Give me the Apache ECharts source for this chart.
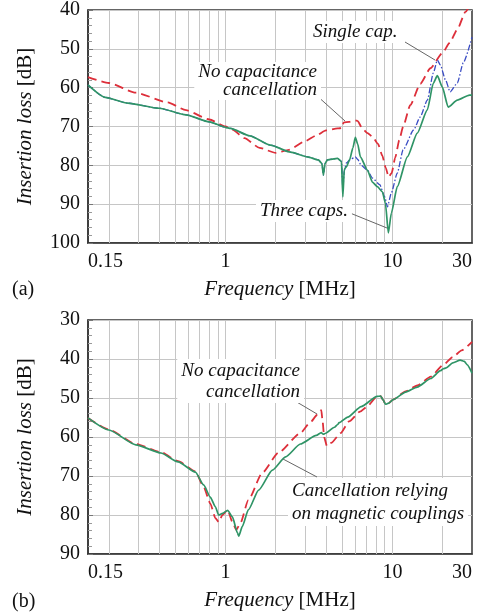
<!DOCTYPE html>
<html><head><meta charset="utf-8">
<script src="https://cdn.jsdelivr.net/npm/echarts@6/dist/echarts.min.js"></script>
<style>html,body{margin:0;padding:0;background:#fff}#c{width:480px;height:615px}</style>
</head><body><div id="c"></div>
<script>
// ---- tick labels / gridlines ----
const xTickLabels = [0.15, 1, 10, 30];
const gridFreqs = [0.2,0.3,0.4,0.5,0.6,0.7,0.8,0.9,1,2,3,4,5,6,7,8,9,10,20];
const yTicksA = [40,50,60,70,80,90,100];
const yTicksB = [30,40,50,60,70,80,90];

// ---- panel (a) ----
const fA_none = [0.15,0.2,0.29,0.45,0.58,0.8,1.0,1.1,1.3,1.6,2.0,2.4,3.0,3.5,4.0,4.7,5.0,5.1,5.5,6.0,6.2,6.6,7.1,7.6,8.2,8.7,9.1,9.5,9.9,10.4,11.0,11.6,12.8,14.7,16.9,20,22,24.5,27.4,30];
const lA_none = [57.3,58.8,61.3,63.8,65.8,68.2,70.0,70.8,73.0,75.5,76.8,76.0,73.8,72.3,71.0,70.5,70.4,69.0,68.8,68.4,68.6,70.5,71.7,72.6,74.5,77.5,80.5,83.0,82.0,78.0,73.5,70.0,64.5,59.0,55.0,51.0,48.5,45.0,40.5,37.5];

const fA_single = [0.15,0.19,0.26,0.4,0.58,0.8,1.0,1.07,1.4,1.86,2.45,3.1,3.6,3.78,3.86,3.95,4.08,4.69,4.95,5.05,5.15,5.3,5.6,6.0,6.2,6.5,7.08,7.6,8.4,9.0,9.34,9.86,10.7,11.6,13.4,14.7,16.2,17.6,18.6,19.4,20.8,22.2,24.5,26.6,30];
const lA_single = [59.3,62.5,64.0,65.3,67.0,68.8,70.2,70.5,72.4,74.8,76.6,77.8,78.6,79.5,82.5,79.5,78.6,78.2,79.0,86.0,81.5,79.4,78.5,77.8,78.5,80.0,81.2,83.3,85.0,88.1,90.7,87.1,82.0,76.0,70.9,67.5,63.2,56.2,52.9,54.2,58.0,61.1,58.8,53.6,47.0];

const fA_three = [0.15,0.19,0.26,0.4,0.58,0.8,1.0,1.07,1.4,1.86,2.45,3.1,3.6,3.78,3.86,3.95,4.08,4.69,4.95,5.05,5.15,5.3,5.55,5.8,6.0,6.2,6.43,7.08,7.59,8.13,8.71,9.08,9.46,9.86,10.7,12.3,14.1,16.2,17.6,18.6,19.9,21.6,24.5,29,30];
const lA_three = [59.3,62.5,64.0,65.3,67.0,68.8,70.2,70.5,72.4,74.8,76.6,77.8,78.6,79.5,82.5,79.5,78.6,78.2,79.0,88.1,81.0,80.4,78.5,75.5,72.8,74.5,77.8,81.2,84.3,85.5,86.8,89.7,97.4,92.3,85.5,77.8,71.7,65.7,58.8,56.9,59.8,65.0,63.2,61.9,61.9];

// ---- panel (b) ----
const fB_none = [0.15,0.2,0.29,0.41,0.52,0.66,0.74,0.81,0.87,0.91,0.96,1.03,1.1,1.16,1.23,1.37,1.66,2.08,2.81,3.2,3.55,3.75,3.82,3.9,4.05,4.3,4.9,5.5,6.4,7.0,8.1,8.5,8.8,9.1,9.5,10.1,12,14.1,17,20.2,23,26,30];
const lB_none = [55.1,58.1,61.8,63.9,66.2,68.8,72.8,77.0,80.8,81.8,80.0,78.7,81.8,83.8,82.0,76.2,69.2,64.0,59.0,56.4,54.3,53.1,56.0,60.0,62.3,61.5,59.0,56.0,53.5,52.3,49.6,49.5,50.5,51.6,51.3,50.4,48.3,46.8,44.5,41.5,39.5,37.8,35.6];

const fB_mag = [0.15,0.2,0.29,0.41,0.52,0.66,0.74,0.81,0.87,0.91,0.96,1.03,1.1,1.18,1.2,1.26,1.37,1.58,1.91,2.29,2.81,3.5,3.75,3.85,3.95,4.5,4.7,4.8,5.4,6.5,8.1,8.5,8.8,9.1,9.5,10.1,12,14.1,17,19.4,20.2,21,23,25.5,27,28.1,30];
const lB_mag = [55.1,58.2,62.0,64.1,66.4,69.0,72.3,75.4,77.9,80.0,79.6,78.8,80.5,84.6,85.4,83.0,78.7,73.6,68.5,65.1,61.8,59.6,58.9,59.3,59.1,57.5,56.8,56.3,54.9,52.2,49.6,49.5,50.5,51.6,51.3,50.4,48.5,47.2,45.0,43.0,42.5,42.3,41.0,40.3,40.6,41.5,43.6];

const FONT = "'Liberation Serif','Times New Roman',serif";
const zip = (xs, ys) => xs.map((x, i) => [x, ys[i]]);
const fmtX = v => { const r = +(+v).toPrecision(3); return xTickLabels.some(t => Math.abs(t - r) < 1e-6) ? String(r) : ''; };

function xAxisCfg(gi) {
  return {
    type: 'log', gridIndex: gi, min: 0.15, max: 30, logBase: 10,
    axisLine: { show: true, lineStyle: { color: '#333', width: 1.5 } },
    axisTick: { show: false }, splitLine: { show: false }, minorTick: { show: false },
    axisLabel: { formatter: fmtX, fontFamily: FONT, fontSize: 20, color: '#111', margin: 9,
      alignMinLabel: 'left', alignMaxLabel: 'right', showMinLabel: true, showMaxLabel: true },
    name: '{i|Frequency} {n|[MHz]}', nameLocation: 'middle', nameGap: 36,
    nameTextStyle: { fontFamily: FONT, fontSize: 21, color: '#111',
      rich: { i: { fontStyle: 'italic', fontFamily: FONT, fontSize: 21, color: '#111' }, n: { fontFamily: FONT, fontSize: 21, color: '#111' } } }
  };
}
function yAxisCfg(gi, ticks) {
  return {
    type: 'value', gridIndex: gi, inverse: true, min: ticks[0], max: ticks[ticks.length - 1], interval: 10,
    axisLine: { show: true, lineStyle: { color: '#333', width: 1.5 } },
    axisTick: { show: true, inside: true, length: 5, lineStyle: { color: '#777' } },
    minorTick: { show: true, splitNumber: 5, length: 4, lineStyle: { color: '#999' } },
    splitLine: { show: true, lineStyle: { color: '#c6c6c6', width: 1 } },
    axisLabel: { fontFamily: FONT, fontSize: 20, color: '#111', margin: 8 },
    name: '{i|Insertion loss} {n|[dB]}', nameLocation: 'middle', nameGap: 52,
    nameTextStyle: { fontFamily: FONT, fontSize: 21, color: '#111',
      rich: { i: { fontStyle: 'italic', fontFamily: FONT, fontSize: 21, color: '#111' }, n: { fontFamily: FONT, fontSize: 21, color: '#111' } } }
  };
}
function gridLineSeries(gi) {
  return {
    type: 'line', xAxisIndex: gi, yAxisIndex: gi, data: [], silent: true, z: 1,
    markLine: { silent: true, z: 1, animation: false, symbol: ['none', 'none'], label: { show: false },
      lineStyle: { color: '#c6c6c6', width: 1, type: 'solid' }, emphasis: { disabled: true },
      data: gridFreqs.map(v => ({ xAxis: v })) }
  };
}
const RED = '#dd2f3a', BLUE = '#3a4cc4', GREEN = '#2f9466';
function line(gi, data, color, type, width) {
  return { type: 'line', xAxisIndex: gi, yAxisIndex: gi, data, showSymbol: false, symbol: 'none',
    smooth: 0.2, smoothMonotone: 'x', animation: false, z: 3,
    lineStyle: { color, type, width } };
}

const txt = (x, y, text, align, lh) => ({ type: 'text', x, y, z: 50,
  style: { text, font: 'italic 19px ' + FONT, fill: '#111', align: align, verticalAlign: 'top',
    lineHeight: lh, backgroundColor: '#fff', padding: [1, 4, 1, 4] } });
const ldr = (x1, y1, x2, y2) => ({ type: 'line', z: 49, shape: { x1, y1, x2, y2 }, style: { stroke: '#666', lineWidth: 1 } });

const chart = echarts.init(document.getElementById('c'), null, { renderer: 'canvas' });
chart.setOption({
  backgroundColor: '#fff',
  animation: false,
  grid: [
    { left: 88, top: 10, width: 384, height: 233, show: true, borderColor: '#333', borderWidth: 1.5, backgroundColor: 'transparent' },
    { left: 88, top: 320, width: 384, height: 234, show: true, borderColor: '#333', borderWidth: 1.5, backgroundColor: 'transparent' }
  ],
  xAxis: [xAxisCfg(0), xAxisCfg(1)],
  yAxis: [yAxisCfg(0, yTicksA), yAxisCfg(1, yTicksB)],
  series: [
    gridLineSeries(0), gridLineSeries(1),
    line(0, zip(fA_none, lA_none), RED, [9, 5], 1.8),
    line(0, zip(fA_single, lA_single), BLUE, [6, 2, 1.5, 2], 1.3),
    line(0, zip(fA_three, lA_three), GREEN, 'solid', 1.7),
    line(1, zip(fB_none, lB_none), RED, [9, 5], 1.8),
    line(1, zip(fB_mag, lB_mag), GREEN, 'solid', 1.7)
  ],
  graphic: [
    { type: 'text', x: 12, y: 280, style: { text: '(a)', font: '20px ' + FONT, fill: '#111' } },
    { type: 'text', x: 12, y: 592, style: { text: '(b)', font: '20px ' + FONT, fill: '#111' } },
    txt(309, 21, 'Single cap.', 'left', 20),
    ldr(405, 42, 435, 60),
    txt(321, 62, 'No capacitance\ncancellation', 'right', 18),
    ldr(315, 94, 345, 121),
    txt(256, 200, 'Three caps.', 'left', 20),
    ldr(350, 213, 387, 228),
    txt(304, 359, 'No capacitance\ncancellation', 'right', 21),
    ldr(290, 398, 317, 414),
    txt(288, 478, 'Cancellation relying\non magnetic couplings', 'left', 23),
    ldr(317, 477, 283, 459)
  ]
});
</script></body></html>
